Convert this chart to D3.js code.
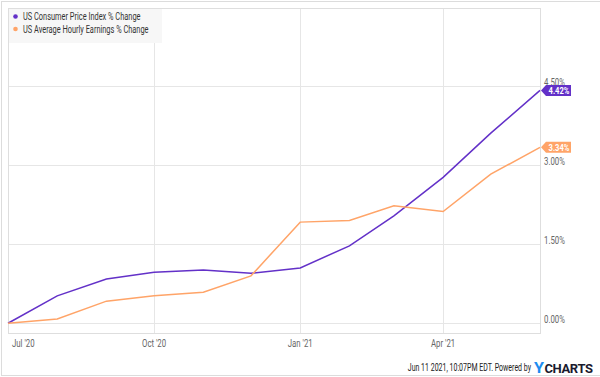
<!DOCTYPE html>
<html>
    <head>
        <meta charset="utf-8">
        <style>
            body {
                margin: 0;
                font-family: Roboto, Arial, sans-serif;
            }
            .grid line {
                stroke: #e6e6e6;
                stroke-width: 1;
            }
            .tick-label {
                fill: #666;
                font-size: 10px;
            }
            .line-path {
                fill: none;
                stroke-width: 1.5;
            }
        </style>
    </head>
    <body>
        <script src="https://d3js.org/d3.v7.min.js"></script>

        <script>
            // data
            const months = ["2020-07-01", "2020-08-01", "2020-09-01", "2020-10-01", "2020-11-01", "2020-12-01",
                            "2021-01-01", "2021-02-01", "2021-03-01", "2021-04-01", "2021-05-01", "2021-06-01"];
            const cpiChange = [0.00, 0.52, 0.84, 0.97, 1.01, 0.95, 1.05, 1.47, 2.04, 2.77, 3.61, 4.42];
            const earningsChange = [0.00, 0.08, 0.42, 0.52, 0.59, 0.90, 1.92, 1.95, 2.23, 2.12, 2.83, 3.34];
            const seriesNames = ["US Consumer Price Index % Change", "US Average Hourly Earnings % Change"];
            const seriesColors = ["#6331c8", "#ffa468"];
            const yTicks = [0, 1.5, 3, 4.5];
            const xTicks = ["2020-07-01", "2020-10-01", "2021-01-01", "2021-04-01"];
            const footerText = "Jun 11 2021, 10:07PM EDT.  Powered by";

            const width = 600;
            const height = 377;
            const plot = ({top: 8, right: 540, bottom: 333, left: 8});

            const dates = months.map(d => new Date(d));
            const series = [cpiChange, earningsChange];

            const svg = d3.select("body").append("svg")
                .attr("width", width)
                .attr("height", height);

            // squeeze text to look like a condensed face
            function condense(sel, k) {
                sel.each(function() {
                    const len = this.getComputedTextLength();
                    d3.select(this)
                      .attr("textLength", len * k)
                      .attr("lengthAdjust", "spacingAndGlyphs");
                });
            }

            // outer frame
            svg.append("rect")
                .attr("x", 1.5).attr("y", 1.5)
                .attr("width", width + 10).attr("height", height - 3)
                .attr("fill", "none")
                .attr("stroke", "#dcdcdc");

            const xScale = d3.scaleUtc()
                .domain(d3.extent(dates))
                .range([plot.left, plot.right]);

            const yScale = d3.scaleLinear()
                .domain([-0.185, 5.985])
                .range([plot.bottom, plot.top]);

            // gridlines
            const grid = svg.append("g").attr("class", "grid");
            grid.selectAll(".gy")
                .data(yTicks)
                .join("line")
                .attr("x1", plot.left).attr("x2", plot.right)
                .attr("y1", d => Math.round(yScale(d)) + 0.5)
                .attr("y2", d => Math.round(yScale(d)) + 0.5);
            grid.selectAll(".gx")
                .data(xTicks.slice(1).map(d => new Date(d)))
                .join("line")
                .attr("y1", plot.top).attr("y2", plot.bottom)
                .attr("x1", d => Math.round(xScale(d)) + 0.5)
                .attr("x2", d => Math.round(xScale(d)) + 0.5);

            // plot border
            svg.append("rect")
                .attr("x", plot.left + 0.5).attr("y", plot.top + 0.5)
                .attr("width", plot.right - plot.left).attr("height", plot.bottom - plot.top)
                .attr("fill", "none")
                .attr("stroke", "#dedede");

            // legend
            const legend = svg.append("g");
            legend.append("rect")
                .attr("x", plot.left + 1).attr("y", plot.top + 1)
                .attr("width", 153).attr("height", 34)
                .attr("fill", "#f7f7f7");
            seriesNames.forEach((name, i) => {
                legend.append("circle")
                    .attr("cx", 15.5).attr("cy", 16.5 + i * 12.5)
                    .attr("r", 2.3)
                    .attr("fill", seriesColors[i]);
                legend.append("text")
                    .attr("x", 23).attr("y", 16.5 + i * 12.5)
                    .attr("dy", "0.35em")
                    .attr("font-size", "10px")
                    .attr("fill", "#333")
                    .text(name)
                    .call(condense, 0.74);
            });

            // lines
            const line = d3.line()
                .x((d, i) => xScale(dates[i]))
                .y(d => yScale(d));

            series.forEach((values, i) => {
                svg.append("path")
                    .datum(values)
                    .attr("class", "line-path")
                    .attr("stroke", seriesColors[i])
                    .attr("d", line);
            });

            // y axis labels
            svg.append("g")
                .selectAll("text")
                .data(yTicks)
                .join("text")
                .attr("class", "tick-label")
                .attr("x", 544)
                .attr("y", d => yScale(d) - 4)
                .attr("dy", "0.35em")
                .text(d => d3.format(".2f")(d) + "%")
                .call(condense, 0.78);

            // x axis labels
            const fmtMonth = d => d3.utcFormat("%b '%y")(d);
            svg.append("g")
                .selectAll("text")
                .data(xTicks.map(d => new Date(d)))
                .join("text")
                .attr("class", "tick-label")
                .attr("x", (d, i) => i === 0 ? plot.left + 4 : xScale(d))
                .attr("y", 343)
                .attr("dy", "0.35em")
                .attr("text-anchor", (d, i) => i === 0 ? "start" : "middle")
                .text(fmtMonth)
                .call(condense, 0.78);

            // end value tags
            series.forEach((values, i) => {
                const v = values[values.length - 1];
                const y = yScale(v);
                const x0 = plot.right + 1;
                const g = svg.append("g");
                g.append("path")
                    .attr("d", `M${x0},${y} L${x0 + 5},${y - 5.5} L${x0 + 30},${y - 5.5} L${x0 + 30},${y + 5.5} L${x0 + 5},${y + 5.5} Z`)
                    .attr("fill", seriesColors[i]);
                g.append("text")
                    .attr("x", x0 + 18)
                    .attr("y", y)
                    .attr("dy", "0.35em")
                    .attr("text-anchor", "middle")
                    .attr("font-size", "9.5px")
                    .attr("font-weight", "bold")
                    .attr("fill", "#fff")
                    .text(d3.format(".2f")(v) + "%")
                    .call(condense, 0.8);
            });

            // footer
            svg.append("text")
                .attr("x", 531)
                .attr("y", 371)
                .attr("text-anchor", "end")
                .attr("font-size", "10px")
                .attr("fill", "#222")
                .text(footerText)
                .call(condense, 0.7);

            svg.append("text")
                .attr("x", 534)
                .attr("y", 372.5)
                .attr("font-size", "14px")
                .attr("font-weight", "bold")
                .attr("fill", "#1c8cf0")
                .attr("textLength", 10)
                .attr("lengthAdjust", "spacingAndGlyphs")
                .text("Y");
            svg.append("text")
                .attr("x", 544.5)
                .attr("y", 372.5)
                .attr("font-size", "13px")
                .attr("font-weight", "bold")
                .attr("fill", "#1a1a2e")
                .attr("textLength", 48.5)
                .attr("lengthAdjust", "spacing")
                .text("CHARTS");
        </script>
    </body>
</html>
